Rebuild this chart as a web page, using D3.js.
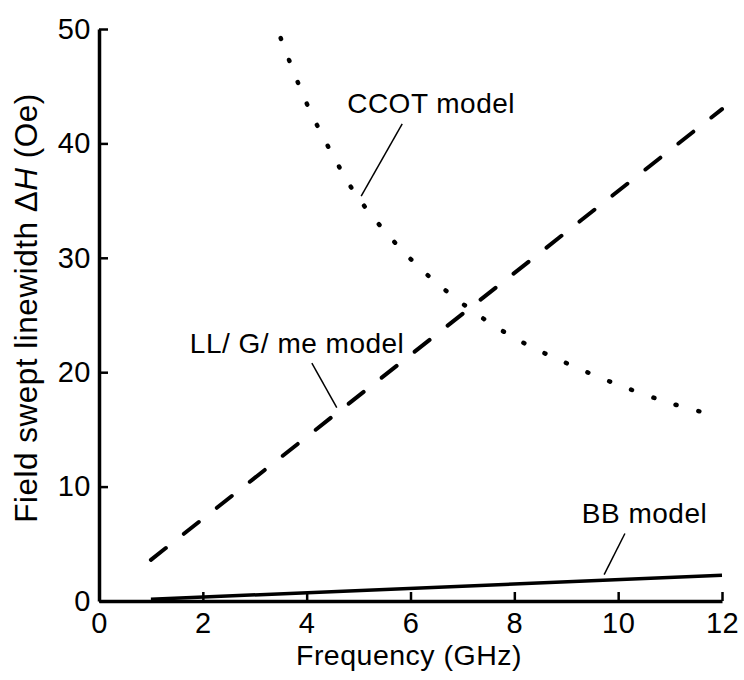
<!DOCTYPE html>
<html>
<head>
<meta charset="utf-8">
<script src="https://cdn.jsdelivr.net/npm/d3@7"></script>
<style>
  body { margin: 0; background: #fff; }
  svg text { font-family: "Liberation Sans", Arial, sans-serif; fill: #000; letter-spacing: 0.5px; }
</style>
</head>
<body>
<div id="chart"></div>
<script>
// Values
const xTicks = [0, 2, 4, 6, 8, 10, 12];
const yTicks = [0, 10, 20, 30, 40, 50];

const ccotFreq  = [3.5, 4, 4.5, 5, 6, 7, 8, 9, 10, 11, 11.8];
const ccotWidth = [49.2, 43.5, 39, 35.2, 29.9, 26, 23, 20.8, 18.9, 17.3, 16.3];

const llgFreq  = [1, 12];
const llgWidth = [3.6, 43];

const bbFreq  = [1, 12];
const bbWidth = [0.15, 2.25];

// label text, anchor point (GHz, Oe) and leader line end points
const labelText = ["CCOT model", "LL/ G/ me model", "BB model"];
const labelAt   = [[4.78, 42.7], [1.75, 21.7], [9.3, 6.8]];
const leaderFrom = [[5.84, 41.7], [4.10, 20.8], [10.13, 5.9]];
const leaderTo   = [[5.05, 35.4], [4.58, 16.9], [9.73, 2.3]];

const width = 744, height = 680;

const svg = d3.select("#chart").append("svg")
    .attr("width", width)
    .attr("height", height);

const x = d3.scaleLinear().domain([0, 12]).range([99, 722]);
const y = d3.scaleLinear().domain([0, 50]).range([601, 29]);

// Axes (ticks point inward)
const xAxis = svg.append("g")
    .attr("transform", `translate(0,${y(0)})`)
    .call(d3.axisBottom(x).tickValues(xTicks).tickSizeInner(-9).tickSizeOuter(0).tickPadding(10));

const yAxis = svg.append("g")
    .attr("transform", `translate(${x(0)},0)`)
    .call(d3.axisLeft(y).tickValues(yTicks).tickSizeInner(-9).tickSizeOuter(0).tickPadding(8));

[xAxis, yAxis].forEach(a => {
    a.select(".domain").attr("stroke", "#000").attr("stroke-width", 3.5);
    a.selectAll(".tick line").attr("stroke", "#000").attr("stroke-width", 2.5);
    a.selectAll(".tick text").style("font-size", "29px");
});
xAxis.selectAll(".tick text").attr("dy", "0.75em");

// Axis titles
svg.append("text")
    .attr("x", 409)
    .attr("y", 665)
    .attr("text-anchor", "middle")
    .style("font-size", "28.5px")
    .text("Frequency (GHz)");

const yTitle = svg.append("text")
    .attr("transform", "translate(37,308) rotate(-90)")
    .attr("text-anchor", "middle")
    .style("font-size", "31.5px");
yTitle.append("tspan").text("Field swept linewidth \u0394");
yTitle.append("tspan").style("font-style", "italic").text("H");
yTitle.append("tspan").text(" (Oe)");

// Curves
const line = d3.line()
    .x(d => x(d[0]))
    .y(d => y(d[1]));

svg.append("path")
    .datum(d3.zip(ccotFreq, ccotWidth))
    .attr("fill", "none")
    .attr("stroke", "#000")
    .attr("stroke-width", 4.5)
    .attr("stroke-linecap", "round")
    .attr("stroke-dasharray", "1,22.5")
    .attr("d", line.curve(d3.curveCatmullRom));

svg.append("path")
    .datum(d3.zip(llgFreq, llgWidth))
    .attr("fill", "none")
    .attr("stroke", "#000")
    .attr("stroke-width", 4)
    .attr("stroke-linecap", "round")
    .attr("stroke-dasharray", "19,23")
    .attr("d", line.curve(d3.curveLinear));

svg.append("path")
    .datum(d3.zip(bbFreq, bbWidth))
    .attr("fill", "none")
    .attr("stroke", "#000")
    .attr("stroke-width", 3.5)
    .attr("d", line.curve(d3.curveLinear));

// Labels with leader lines
labelText.forEach((t, i) => {
    svg.append("line")
        .attr("x1", x(leaderFrom[i][0]))
        .attr("y1", y(leaderFrom[i][1]))
        .attr("x2", x(leaderTo[i][0]))
        .attr("y2", y(leaderTo[i][1]))
        .attr("stroke", "#000")
        .attr("stroke-width", 1.5);

    svg.append("text")
        .attr("x", x(labelAt[i][0]))
        .attr("y", y(labelAt[i][1]))
        .style("font-size", "28px")
        .text(t);
});
</script>
</body>
</html>
